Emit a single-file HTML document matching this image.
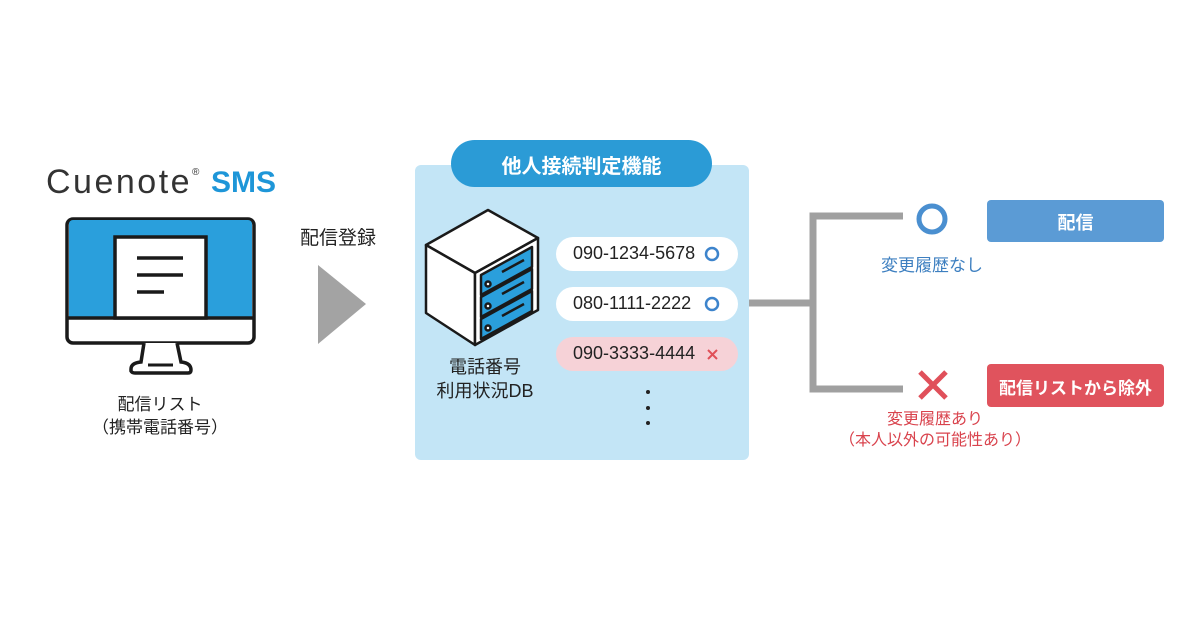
<!DOCTYPE html>
<html><head><meta charset="utf-8"><style>
body{margin:0;width:1200px;height:630px;background:#fff;position:relative;overflow:hidden;font-family:"Liberation Sans","Noto Sans CJK JP",sans-serif;}
.a{position:absolute;white-space:nowrap}
.c{text-align:center}
</style></head><body>
<svg class="a" style="left:0;top:0" width="1200" height="630">
<rect x="67" y="219" width="187" height="124" rx="6" fill="#fff" stroke="#1a1a1a" stroke-width="3.5"/>
<path d="M69 317 V224 a4 4 0 0 1 4 -4 H248 a4 4 0 0 1 4 4 V317 Z" fill="#2a9fdc"/>
<line x1="67" y1="318" x2="254" y2="318" stroke="#1a1a1a" stroke-width="3.5"/>
<rect x="115" y="237" width="91" height="81" fill="#fff" stroke="#1a1a1a" stroke-width="3.5"/>
<line x1="137" y1="258" x2="183" y2="258" stroke="#1a1a1a" stroke-width="3.5"/>
<line x1="137" y1="275" x2="183" y2="275" stroke="#1a1a1a" stroke-width="3.5"/>
<line x1="137" y1="292" x2="164" y2="292" stroke="#1a1a1a" stroke-width="3.5"/>
<path d="M144 343 L141 362 Q131 363 131 369 L131 371 Q132 373 135 373 L188 373 Q191 373 191 370 Q191 363 181 362 L177 343" fill="#fff" stroke="#1a1a1a" stroke-width="3.5"/>
<line x1="148" y1="365" x2="173" y2="365" stroke="#1a1a1a" stroke-width="3"/>
<polygon points="318,265 366,304 318,344" fill="#a3a3a3"/>
<rect x="415" y="165" width="334" height="295" rx="6" fill="#c3e5f6"/>
<rect x="451" y="140" width="261" height="47" rx="23.5" fill="#2b9bd6"/>
<g stroke="#1a1a1a" stroke-width="2.5" stroke-linejoin="round">
<polygon points="488,210 538,238 475,273 426,245" fill="#fff"/>
<polygon points="426,245 475,273 475,345 426,313" fill="#fff"/>
<polygon points="475,273 538,238 538,310 475,345" fill="#fff"/>
<polygon points="481,275 532,247 532,267 481,295" fill="#2a9fdc"/>
<polygon points="481,297 532,269 532,289 481,317" fill="#2a9fdc"/>
<polygon points="481,319 532,291 532,311 481,339" fill="#2a9fdc"/>
<circle cx="488" cy="284" r="2.5" fill="#fff"/><circle cx="488" cy="306" r="2.5" fill="#fff"/><circle cx="488" cy="328" r="2.5" fill="#fff"/>
<line x1="502" y1="272" x2="524" y2="260"/><line x1="502" y1="294" x2="524" y2="282"/><line x1="502" y1="316" x2="524" y2="304"/>
</g>
<rect x="556" y="237" width="182" height="34" rx="17" fill="#fff"/>
<rect x="556" y="287" width="182" height="34" rx="17" fill="#fff"/>
<rect x="556" y="337" width="182" height="34" rx="17" fill="#f6d2d7"/>
<circle cx="712" cy="254" r="6" fill="none" stroke="#3d84cc" stroke-width="2.5"/>
<circle cx="712" cy="304" r="6" fill="none" stroke="#3d84cc" stroke-width="2.5"/>
<path d="M708 350 l9 9 M717 350 l-9 9" stroke="#e05058" stroke-width="2"/>
<circle cx="648" cy="392" r="2" fill="#222"/><circle cx="648" cy="408" r="2" fill="#222"/><circle cx="648" cy="423" r="2" fill="#222"/>
<g stroke="#a0a0a0" stroke-width="7" fill="none">
<line x1="749" y1="303" x2="813" y2="303"/>
<polyline points="903,216 813,216 813,389 903,389"/>
</g>
<circle cx="932" cy="219" r="13" fill="none" stroke="#4a8fd0" stroke-width="5"/>
<path d="M920 372 l26 26 M946 372 l-26 26" stroke="#e0505a" stroke-width="5"/>
<rect x="987" y="200" width="177" height="42" rx="4" fill="#5b9bd5"/>
<rect x="987" y="364" width="177" height="43" rx="4" fill="#e0535d"/>
</svg>
<div class="a" style="left:46px;top:163px;font-size:34px;color:#333;letter-spacing:2.5px">Cuenote<sup style="font-size:10px;vertical-align:top;position:relative;top:4px;letter-spacing:0">®</sup></div>
<div class="a" style="left:211px;top:166px;font-size:30px;color:#1e96d8;font-weight:bold">SMS</div>
<div class="a c" style="left:60px;width:200px;top:393px;font-size:17px;color:#222;line-height:23px">配信リスト<br>（携帯電話番号）</div>
<div class="a c" style="left:288px;width:100px;top:223px;font-size:19px;color:#222">配信登録</div>
<div class="a c" style="left:451px;width:261px;top:150px;font-size:20px;color:#fff;font-weight:bold">他人接続判定機能</div>
<div class="a c" style="left:425px;width:120px;top:355px;font-size:18px;color:#222;line-height:24px">電話番号<br>利用状況DB</div>
<div class="a" style="left:573px;top:243px;font-size:18px;color:#222">090-1234-5678</div>
<div class="a" style="left:573px;top:293px;font-size:18px;color:#222">080-1111-2222</div>
<div class="a" style="left:573px;top:343px;font-size:18px;color:#222">090-3333-4444</div>
<div class="a c" style="left:862px;width:140px;top:251px;font-size:17px;color:#3d7fc0">変更履歴なし</div>
<div class="a c" style="left:987px;width:177px;top:209px;font-size:18px;color:#fff;font-weight:bold">配信</div>
<div class="a c" style="left:987px;width:177px;top:374px;font-size:17px;color:#fff;font-weight:bold">配信リストから除外</div>
<div class="a c" style="left:825px;width:220px;top:409px;font-size:16px;color:#d9434d;line-height:21px">変更履歴あり<br>（本人以外の可能性あり）</div>
</body></html>
